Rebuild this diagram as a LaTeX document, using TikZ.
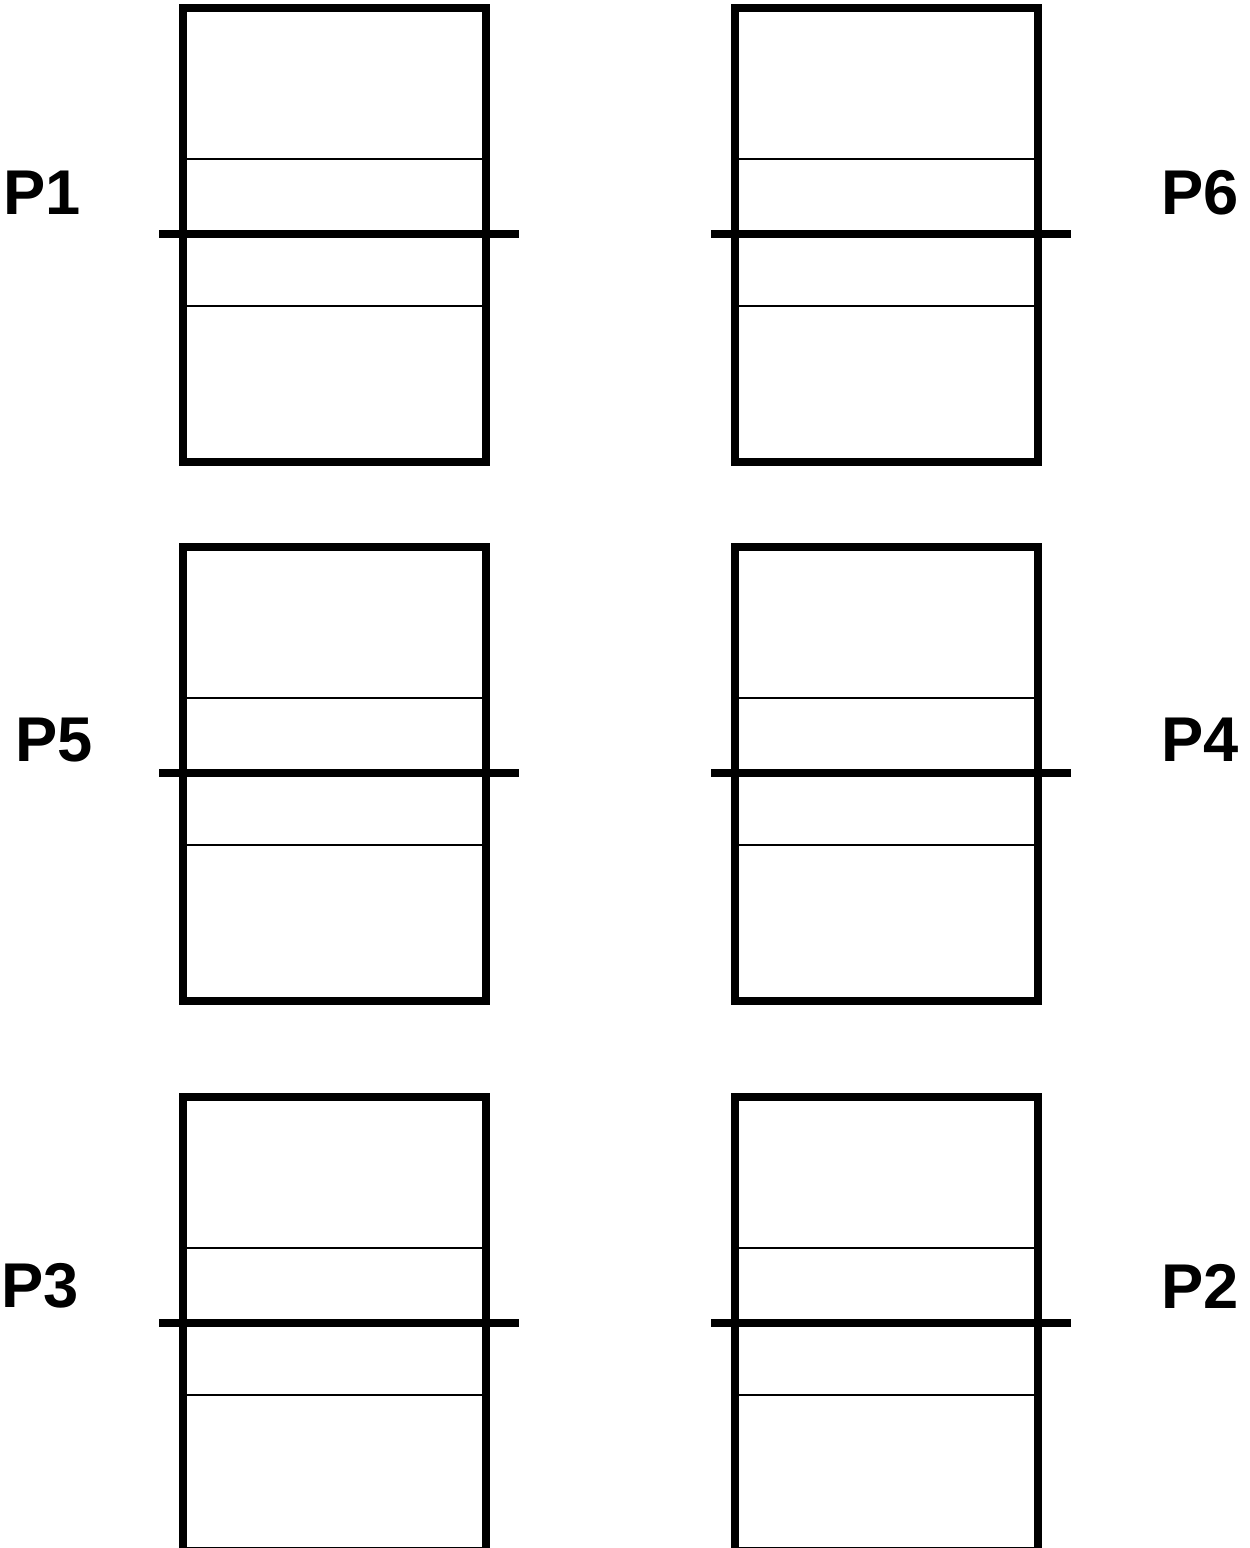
\documentclass[tikz,border=0pt]{standalone}
\usepackage{fontspec}
\setmainfont{Liberation Sans}
\usetikzlibrary{calc,positioning}
\tikzset{
  frame/.style={draw,line width=0.16cm,minimum width=6.06cm,minimum height=9.08cm,
    inner sep=0pt,outer sep=0pt,anchor=north west},
  divider/.style={draw,line width=0.045cm},
  axisline/.style={draw,line width=0.16cm},
  tag/.style={font=\bfseries\fontsize{36}{36}\selectfont,inner sep=0pt}
}
\begin{document}
\begin{tikzpicture}[x=0.02cm,y=-0.02cm]
  \useasboundingbox (0,0) rectangle (1249,1548);
  \foreach \n/\x/\y in {1/183/8,6/735/8,5/183/547,4/735/547,3/183/1097,2/735/1097}{
    \node[frame] (box\n) at (\x,\y) {};
    \draw[divider] ($(box\n.north west)+(0,151)$) -- ($(box\n.north east)+(0,151)$);
    \draw[divider] ($(box\n.north west)+(0,298)$) -- ($(box\n.north east)+(0,298)$);
    \draw[axisline] ($(box\n.north west)+(-24,226)$) -- ($(box\n.north east)+(33,226)$);
  }
  % labels
  \node[tag] (p1) at (42,193) {P1};
  \node[tag] (p6) at (1200,193) {P6};
  \node[tag] (p5) at (54,740) {P5};
  \node[tag] (p4) at (1200,740) {P4};
  \node[tag] (p3) at (40,1286) {P3};
  \node[tag] (p2) at (1200,1286) {P2};
\end{tikzpicture}
\end{document}
